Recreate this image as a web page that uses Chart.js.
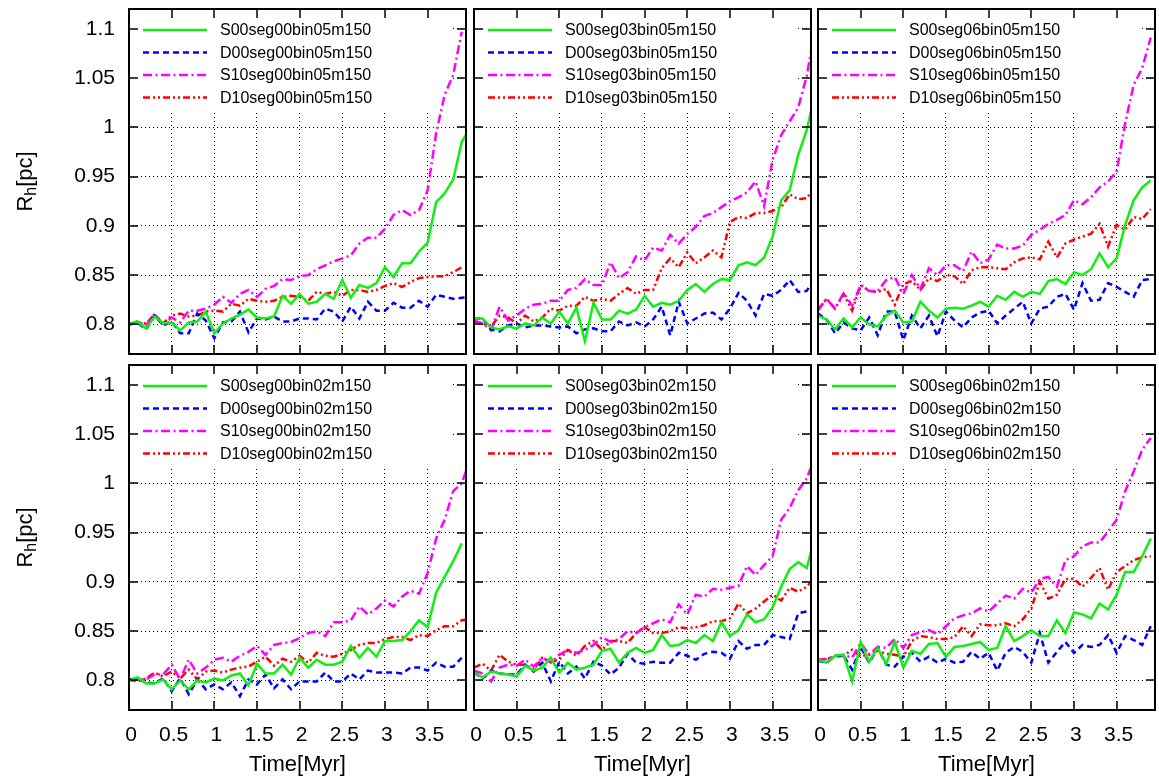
<!DOCTYPE html>
<html>
<head>
<meta charset="utf-8">
<title>Rh vs time</title>
<script src="https://cdn.jsdelivr.net/npm/chart.js@4.4.0/dist/chart.umd.min.js"></script>
<style>
  body { margin: 0; background: #fff; }
  #wrap { position: relative; width: 1159px; height: 783px; overflow: hidden; }
  .panel { position: absolute; }
</style>
</head>
<body>
<div id="wrap"></div>
<script>
// time axis, Myr (the last sample sits just past the right edge)
const times = [0, 0.1, 0.2, 0.3, 0.4, 0.5, 0.6, 0.7, 0.8, 0.9, 1, 1.1, 1.2, 1.3, 1.4, 1.5, 1.6, 1.7, 1.8, 1.9,
  2, 2.1, 2.2, 2.3, 2.4, 2.5, 2.6, 2.7, 2.8, 2.9, 3, 3.1, 3.2, 3.3, 3.4, 3.5, 3.6, 3.7, 3.8, 3.9, 4];
const xTicks = [0, 0.5, 1, 1.5, 2, 2.5, 3, 3.5];
const yTicks = [0.8, 0.85, 0.9, 0.95, 1, 1.05, 1.1];

const seriesNames = ['S00', 'D00', 'S10', 'D10'];
const panelTags = ['seg00bin05', 'seg03bin05', 'seg06bin05', 'seg00bin02', 'seg03bin02', 'seg06bin02'];

// top row: binary fraction 05
const s00Seg00Bin05 = [0.800,0.803,0.796,0.808,0.801,0.802,0.794,0.802,0.803,0.813,0.791,0.801,0.806,0.810,0.815,0.807,0.806,0.808,0.829,0.821,0.831,0.821,0.823,0.831,0.826,0.845,0.827,0.840,0.837,0.842,0.858,0.848,0.862,0.862,0.874,0.883,0.924,0.933,0.947,0.985,1.000];
const d00Seg00Bin05 = [0.800,0.802,0.795,0.809,0.799,0.803,0.791,0.791,0.811,0.804,0.786,0.802,0.803,0.813,0.792,0.806,0.805,0.808,0.803,0.803,0.806,0.806,0.805,0.816,0.813,0.803,0.818,0.806,0.823,0.814,0.814,0.822,0.817,0.817,0.824,0.818,0.830,0.828,0.826,0.827,0.828];
const s10Seg00Bin05 = [0.800,0.803,0.799,0.811,0.800,0.807,0.802,0.814,0.814,0.816,0.820,0.828,0.822,0.831,0.835,0.828,0.836,0.839,0.846,0.845,0.849,0.850,0.856,0.860,0.864,0.867,0.870,0.882,0.888,0.888,0.897,0.911,0.916,0.911,0.916,0.936,0.994,1.033,1.053,1.097];
const d10Seg00Bin05 = [0.800,0.802,0.801,0.810,0.801,0.809,0.811,0.808,0.809,0.813,0.814,0.813,0.821,0.819,0.826,0.824,0.823,0.824,0.828,0.829,0.828,0.824,0.833,0.831,0.833,0.829,0.835,0.835,0.833,0.835,0.839,0.842,0.838,0.843,0.847,0.848,0.849,0.849,0.853,0.858];

const s00Seg03Bin05 = [0.806,0.806,0.797,0.795,0.798,0.796,0.801,0.799,0.807,0.801,0.813,0.801,0.817,0.783,0.822,0.805,0.805,0.814,0.811,0.815,0.829,0.818,0.822,0.820,0.824,0.835,0.841,0.833,0.841,0.846,0.845,0.860,0.863,0.860,0.868,0.889,0.926,0.936,0.972,0.997,1.036];
const d00Seg03Bin05 = [0.806,0.806,0.795,0.793,0.799,0.801,0.797,0.799,0.799,0.798,0.797,0.798,0.791,0.795,0.796,0.793,0.793,0.803,0.799,0.802,0.798,0.805,0.818,0.789,0.823,0.801,0.806,0.811,0.812,0.805,0.816,0.832,0.824,0.809,0.831,0.829,0.835,0.845,0.833,0.834,0.848];
const s10Seg03Bin05 = [0.804,0.801,0.794,0.818,0.804,0.809,0.816,0.820,0.821,0.824,0.824,0.835,0.837,0.846,0.840,0.840,0.863,0.847,0.853,0.869,0.865,0.878,0.875,0.891,0.882,0.892,0.899,0.910,0.913,0.919,0.925,0.929,0.934,0.945,0.920,0.967,0.992,1.006,1.020,1.052,1.102];
const d10Seg03Bin05 = [0.803,0.801,0.798,0.809,0.807,0.801,0.809,0.803,0.807,0.816,0.814,0.819,0.819,0.828,0.824,0.826,0.824,0.831,0.837,0.831,0.835,0.835,0.857,0.867,0.858,0.873,0.862,0.868,0.875,0.868,0.904,0.909,0.908,0.913,0.913,0.915,0.919,0.932,0.927,0.928,0.940];

const s00Seg06Bin05 = [0.809,0.805,0.795,0.806,0.797,0.807,0.800,0.798,0.809,0.814,0.802,0.803,0.823,0.814,0.807,0.816,0.817,0.816,0.819,0.823,0.818,0.829,0.825,0.833,0.828,0.833,0.831,0.844,0.846,0.841,0.853,0.850,0.856,0.872,0.858,0.867,0.901,0.926,0.939,0.946];
const d00Seg06Bin05 = [0.811,0.805,0.791,0.802,0.796,0.794,0.807,0.789,0.813,0.813,0.784,0.809,0.796,0.809,0.788,0.813,0.804,0.797,0.807,0.812,0.814,0.801,0.809,0.816,0.823,0.801,0.816,0.818,0.828,0.831,0.815,0.842,0.824,0.825,0.842,0.838,0.833,0.828,0.845,0.846];
const s10Seg06Bin05 = [0.814,0.826,0.816,0.832,0.819,0.840,0.834,0.834,0.845,0.848,0.831,0.850,0.836,0.857,0.850,0.860,0.860,0.854,0.874,0.862,0.866,0.881,0.877,0.877,0.880,0.891,0.896,0.902,0.906,0.911,0.926,0.922,0.929,0.939,0.945,0.955,1.004,1.043,1.060,1.091];
const d10Seg06Bin05 = [0.815,0.826,0.816,0.831,0.814,0.840,0.834,0.833,0.836,0.820,0.841,0.844,0.835,0.847,0.844,0.850,0.849,0.841,0.855,0.858,0.858,0.857,0.856,0.863,0.867,0.868,0.866,0.884,0.868,0.882,0.886,0.889,0.892,0.902,0.879,0.901,0.896,0.909,0.907,0.917];

// bottom row: binary fraction 02
const s00Seg00Bin02 = [0.800,0.803,0.797,0.797,0.801,0.791,0.800,0.791,0.800,0.798,0.802,0.800,0.805,0.807,0.795,0.817,0.807,0.807,0.816,0.806,0.823,0.813,0.821,0.816,0.816,0.819,0.835,0.823,0.833,0.824,0.840,0.840,0.841,0.850,0.861,0.854,0.889,0.905,0.921,0.939];
const d00Seg00Bin02 = [0.801,0.802,0.798,0.797,0.802,0.789,0.802,0.786,0.801,0.791,0.796,0.791,0.798,0.784,0.801,0.796,0.806,0.792,0.801,0.791,0.799,0.799,0.799,0.808,0.799,0.799,0.807,0.801,0.810,0.808,0.808,0.808,0.807,0.813,0.813,0.810,0.818,0.814,0.814,0.823];
const s10Seg00Bin02 = [0.800,0.801,0.801,0.806,0.806,0.816,0.801,0.821,0.807,0.813,0.821,0.823,0.819,0.825,0.829,0.835,0.826,0.836,0.838,0.839,0.843,0.848,0.850,0.845,0.859,0.859,0.861,0.875,0.867,0.873,0.881,0.875,0.885,0.891,0.888,0.909,0.944,0.963,0.992,1.000,1.025];
const d10Seg00Bin02 = [0.801,0.799,0.802,0.808,0.804,0.809,0.802,0.811,0.801,0.809,0.810,0.808,0.811,0.813,0.814,0.819,0.824,0.815,0.822,0.819,0.825,0.818,0.828,0.825,0.824,0.827,0.831,0.836,0.838,0.838,0.842,0.844,0.844,0.841,0.846,0.845,0.851,0.855,0.855,0.861,0.862];

const s00Seg03Bin02 = [0.808,0.803,0.809,0.807,0.806,0.804,0.815,0.810,0.813,0.823,0.808,0.818,0.811,0.813,0.816,0.830,0.832,0.818,0.828,0.833,0.828,0.831,0.846,0.835,0.836,0.841,0.838,0.846,0.840,0.859,0.845,0.851,0.867,0.859,0.862,0.874,0.895,0.913,0.920,0.914,0.947];
const d00Seg03Bin02 = [0.808,0.802,0.810,0.807,0.806,0.806,0.816,0.809,0.818,0.799,0.819,0.807,0.814,0.802,0.819,0.815,0.806,0.813,0.827,0.818,0.817,0.819,0.818,0.818,0.828,0.825,0.821,0.827,0.829,0.828,0.822,0.840,0.832,0.836,0.836,0.846,0.844,0.842,0.868,0.870,0.867];
const s10Seg03Bin02 = [0.810,0.807,0.799,0.813,0.816,0.815,0.821,0.814,0.823,0.818,0.826,0.831,0.828,0.831,0.836,0.844,0.839,0.842,0.850,0.848,0.854,0.858,0.862,0.859,0.877,0.867,0.887,0.885,0.893,0.892,0.894,0.896,0.916,0.907,0.917,0.926,0.963,0.975,0.993,1.005,1.027];
const d10Seg03Bin02 = [0.813,0.817,0.810,0.826,0.819,0.816,0.816,0.811,0.823,0.819,0.821,0.831,0.825,0.835,0.840,0.831,0.840,0.840,0.838,0.848,0.854,0.848,0.848,0.850,0.854,0.853,0.854,0.856,0.860,0.860,0.863,0.878,0.868,0.873,0.880,0.887,0.881,0.894,0.890,0.895,0.905];

const s00Seg06Bin02 = [0.821,0.818,0.825,0.826,0.799,0.839,0.819,0.833,0.817,0.839,0.813,0.830,0.827,0.837,0.838,0.824,0.834,0.835,0.837,0.839,0.831,0.833,0.855,0.840,0.845,0.851,0.845,0.845,0.861,0.848,0.869,0.867,0.863,0.878,0.872,0.887,0.910,0.910,0.926,0.944];
const d00Seg06Bin02 = [0.820,0.818,0.825,0.825,0.811,0.834,0.818,0.833,0.816,0.814,0.824,0.828,0.819,0.824,0.818,0.822,0.818,0.819,0.829,0.822,0.828,0.810,0.828,0.834,0.829,0.818,0.848,0.818,0.829,0.839,0.828,0.836,0.834,0.836,0.846,0.828,0.845,0.841,0.836,0.855];
const s10Seg06Bin02 = [0.820,0.822,0.825,0.826,0.823,0.838,0.826,0.834,0.833,0.842,0.833,0.846,0.849,0.851,0.847,0.855,0.863,0.866,0.868,0.873,0.870,0.878,0.886,0.883,0.893,0.889,0.903,0.905,0.895,0.922,0.926,0.936,0.940,0.940,0.951,0.963,0.992,1.012,1.034,1.046];
const d10Seg06Bin02 = [0.821,0.822,0.824,0.825,0.831,0.824,0.827,0.830,0.827,0.826,0.824,0.840,0.845,0.844,0.842,0.842,0.844,0.855,0.845,0.857,0.856,0.856,0.858,0.855,0.862,0.873,0.900,0.883,0.887,0.903,0.903,0.895,0.904,0.914,0.892,0.910,0.916,0.922,0.925,0.926];

const panelSeries = [
  [s00Seg00Bin05, d00Seg00Bin05, s10Seg00Bin05, d10Seg00Bin05],
  [s00Seg03Bin05, d00Seg03Bin05, s10Seg03Bin05, d10Seg03Bin05],
  [s00Seg06Bin05, d00Seg06Bin05, s10Seg06Bin05, d10Seg06Bin05],
  [s00Seg00Bin02, d00Seg00Bin02, s10Seg00Bin02, d10Seg00Bin02],
  [s00Seg03Bin02, d00Seg03Bin02, s10Seg03Bin02, d10Seg03Bin02],
  [s00Seg06Bin02, d00Seg06Bin02, s10Seg06Bin02, d10Seg06Bin02]
];

const lineColors = ['#11ee11', '#0000ff', '#ff00ff', '#ff0000'];
const lineDashes = [[], [6, 4], [9, 3.5, 2, 3.5], [7, 3, 2, 3, 2, 3]];

const FONT = '"Liberation Sans", Arial, Helvetica, sans-serif';
Chart.defaults.font.family = FONT;
Chart.defaults.color = '#000';

// canvas boxes so that the plot areas line up like the original grid
const colBox = [
  { left: 0, width: 470, padL: 0, padR: 4, yW: 129 },
  { left: 456, width: 359, padL: 18, padR: 4, yW: 0 },
  { left: 800, width: 359, padL: 18, padR: 4, yW: 0 }
];
const rowBox = [
  { top: 0, height: 360, padT: 9, padB: 6, xH: 0 },
  { top: 360, height: 423, padT: 5, padB: 0, xH: 73 }
];

// no extra room for tick labels that hang over the plot edges
function noOverhang(s) {
  s.paddingTop = 0;
  s.paddingBottom = 0;
  s.paddingLeft = 0;
  s.paddingRight = 0;
}

// gnuplot look: opaque key, thick border, inward mirrored ticks, y label with subscript
const framePlugin = {
  id: 'frame',
  beforeDatasetsDraw(chart) {
    const a = chart.chartArea, ctx = chart.ctx;
    ctx.save();
    ctx.fillStyle = '#fff';
    ctx.fillRect(a.left, a.top, a.right - a.left - 16, 103);
    ctx.restore();
  },
  afterDatasetsDraw(chart, args, opts) {
    const a = chart.chartArea, ctx = chart.ctx;
    const xs = chart.scales.x, ys = chart.scales.y;
    ctx.save();

    // key
    ctx.font = '16px ' + FONT;
    ctx.textBaseline = 'middle';
    ctx.textAlign = 'left';
    chart.data.datasets.forEach((ds, i) => {
      const y = a.top + 21 + i * 22.5;
      ctx.strokeStyle = ds.borderColor;
      ctx.lineWidth = ds.borderWidth;
      ctx.setLineDash(ds.borderDash);
      ctx.beginPath();
      ctx.moveTo(a.left + 14, y);
      ctx.lineTo(a.left + 78, y);
      ctx.stroke();
      ctx.setLineDash([]);
      ctx.fillStyle = '#000';
      ctx.fillText(ds.label, a.left + 91, y + 1);
    });

    // ticks on all four sides, pointing in
    ctx.strokeStyle = '#000';
    ctx.lineWidth = 1.5;
    ctx.beginPath();
    xs.ticks.forEach(t => {
      const px = Math.round(xs.getPixelForValue(t.value));
      ctx.moveTo(px, a.bottom); ctx.lineTo(px, a.bottom - 9);
      ctx.moveTo(px, a.top); ctx.lineTo(px, a.top + 9);
    });
    ys.ticks.forEach(t => {
      const py = Math.round(ys.getPixelForValue(t.value));
      ctx.moveTo(a.left, py); ctx.lineTo(a.left + 9, py);
      ctx.moveTo(a.right, py); ctx.lineTo(a.right - 9, py);
    });
    ctx.stroke();

    ctx.lineWidth = 2;
    ctx.strokeRect(a.left, a.top, a.right - a.left, a.bottom - a.top);

    if (opts.yTitle) {
      ctx.translate(32, (a.top + a.bottom) / 2);
      ctx.rotate(-Math.PI / 2);
      ctx.textBaseline = 'alphabetic';
      const big = '22px ' + FONT, small = '16px ' + FONT;
      ctx.font = big;
      const wR = ctx.measureText('R').width, wPc = ctx.measureText('[pc]').width;
      ctx.font = small;
      const wH = ctx.measureText('h').width;
      let x = -(wR + wH + wPc) / 2;
      ctx.font = big; ctx.fillText('R', x, 0); x += wR;
      ctx.font = small; ctx.fillText('h', x, 4); x += wH;
      ctx.font = big; ctx.fillText('[pc]', x, 0);
    }
    ctx.restore();
  }
};

const wrap = document.getElementById('wrap');

panelSeries.forEach((series, p) => {
  const col = colBox[p % 3];
  const row = rowBox[Math.floor(p / 3)];
  const isBottom = p >= 3;

  const div = document.createElement('div');
  div.className = 'panel';
  div.style.left = col.left + 'px';
  div.style.top = row.top + 'px';
  div.style.width = col.width + 'px';
  div.style.height = row.height + 'px';
  const canvas = document.createElement('canvas');
  div.appendChild(canvas);
  wrap.appendChild(div);

  const datasets = series.map((vals, i) => ({
    label: seriesNames[i] + panelTags[p] + 'm150',
    data: vals.map((v, k) => ({ x: times[k], y: v })),
    borderColor: lineColors[i],
    borderDash: lineDashes[i],
    borderWidth: 2.5,
    pointRadius: 0,
    tension: 0,
    fill: false
  }));

  new Chart(canvas, {
    type: 'line',
    data: { datasets: datasets },
    options: {
      responsive: true,
      maintainAspectRatio: false,
      animation: false,
      devicePixelRatio: 1,
      layout: {
        autoPadding: false,
        padding: { left: col.padL, right: col.padR, top: row.padT, bottom: row.padB }
      },
      plugins: {
        legend: { display: false },
        tooltip: { enabled: false },
        frame: { yTitle: p % 3 === 0 }
      },
      scales: {
        x: {
          type: 'linear',
          min: 0,
          max: 3.95,
          afterBuildTicks: s => { s.ticks = xTicks.map(v => ({ value: v })); },
          afterFit: s => { s.height = row.xH; noOverhang(s); },
          grid: { color: '#000', lineWidth: 1, drawTicks: false },
          border: { display: false, dash: [1, 3] },
          ticks: {
            display: isBottom,
            padding: 13,
            labelOffset: 2,
            font: { size: 21 },
            maxRotation: 0,
            autoSkip: false,
            callback: v => String(v)
          },
          title: {
            display: isBottom,
            text: 'Time[Myr]',
            font: { size: 22 },
            padding: { top: 0, bottom: 5 }
          }
        },
        y: {
          min: 0.77,
          max: 1.12,
          afterBuildTicks: s => { s.ticks = yTicks.map(v => ({ value: v })); },
          afterFit: s => { s.width = col.yW; noOverhang(s); },
          grid: { color: '#000', lineWidth: 1, drawTicks: false },
          border: { display: false, dash: [1, 3] },
          ticks: {
            display: p % 3 === 0,
            padding: 14,
            font: { size: 21 },
            autoSkip: false,
            callback: v => String(v)
          }
        }
      }
    },
    plugins: [framePlugin]
  });
});
</script>
</body>
</html>
